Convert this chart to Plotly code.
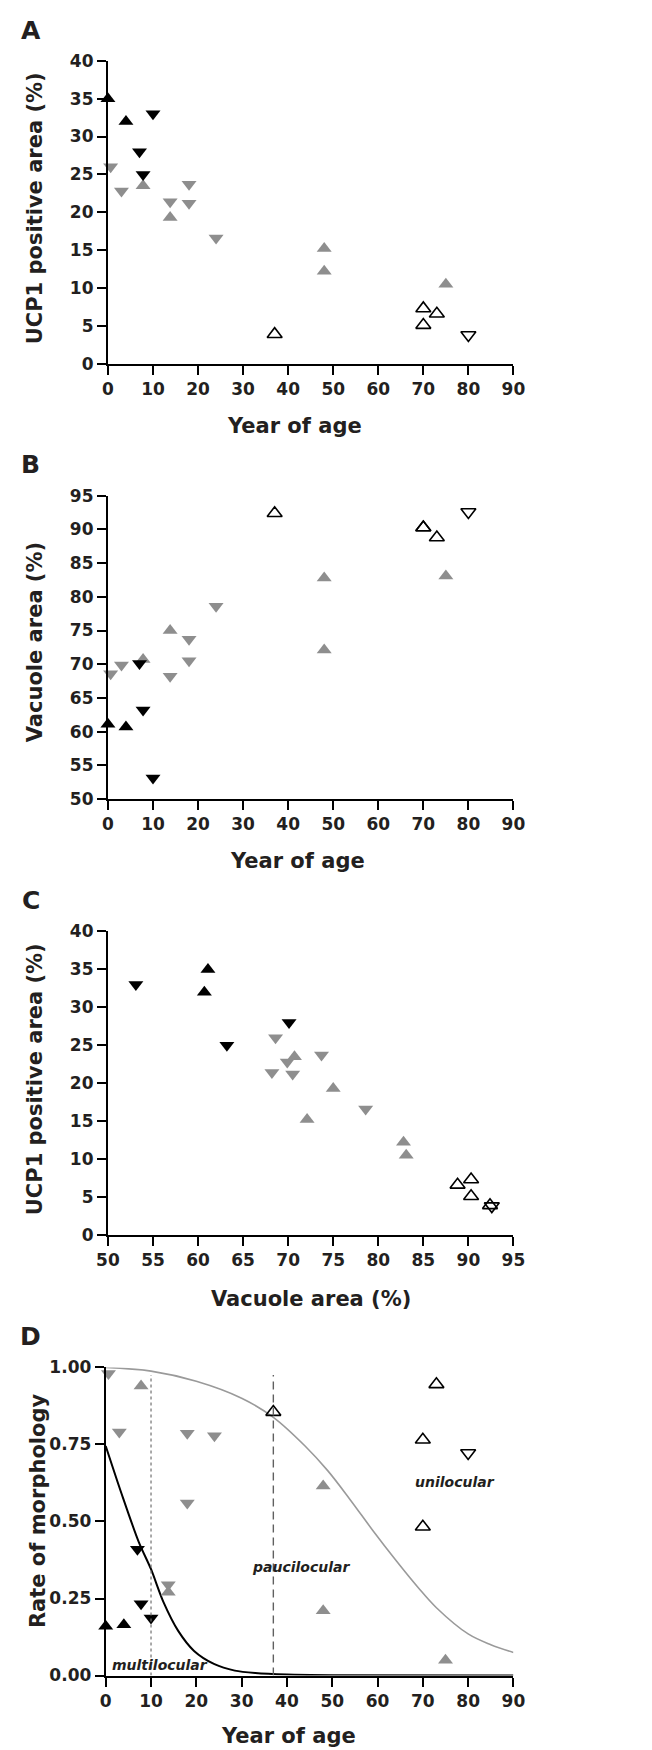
import plotly.graph_objects as go

# ---------------- data ----------------
# groups of subjects, by marker style
black_up_age = [0, 4]
black_up_ucp1 = [35.0, 32.0]
black_up_vac = [61.1, 60.7]
black_up_rate = [0.16, 0.165]

black_down_age = [7, 7.8, 10]
black_down_ucp1 = [28.0, 25.0, 33.0]
black_down_vac = [70.1, 63.2, 53.1]
black_down_rate = [0.41, 0.233, 0.187]

grey_up_age = [7.8, 13.8, 48, 48, 75]
grey_up_ucp1 = [23.5, 19.3, 15.2, 12.2, 10.5]
grey_up_vac = [70.7, 75.0, 72.1, 82.8, 83.1]
grey_up_rate = [0.94, 0.27, 0.615, 0.21, 0.05]

grey_down_age = [0.6, 3, 13.8, 18, 18, 24]
grey_down_ucp1 = [26.0, 22.8, 21.4, 23.7, 21.2, 16.6]
grey_down_vac = [68.6, 69.9, 68.2, 73.7, 70.5, 78.6]
grey_down_rate = [0.98, 0.79, 0.295, 0.786, 0.56, 0.778]

open_up_age = [37, 70, 70, 73]
open_up_ucp1 = [3.9, 7.3, 5.1, 6.6]
open_up_vac = [92.4, 90.3, 90.3, 88.8]
open_up_rate = [0.855, 0.765, 0.483, 0.945]

open_down_age = [80]
open_down_ucp1 = [3.8]
open_down_vac = [92.6]
open_down_rate = [0.722]

# fitted curves in panel D
grey_fit_age = [0, 10, 20, 30, 37, 44, 49, 54, 59, 64, 69, 73, 80, 85, 90]
grey_fit_rate = [1.0, 0.988, 0.955, 0.9, 0.838, 0.745, 0.665, 0.57, 0.47, 0.375, 0.285, 0.22, 0.135, 0.1, 0.075]
black_fit_age = [0, 3.5, 7.3, 10, 12.7, 16, 19.5, 24, 28.5, 33, 40, 50, 90]
black_fit_rate = [0.745, 0.59, 0.433, 0.345, 0.24, 0.145, 0.08, 0.037, 0.016, 0.008, 0.003, 0.001, 0.0]

# threshold ages (vertical lines in D)
threshold_ages = [10, 37]

# ---------------- styling ----------------
W, H = 652, 1750
GREY = "#8e8e8e"
TXT = "#231f20"
FONT = "DejaVu Sans"


def px_x(p):
    return p / W


def px_y(p):
    return 1 - p / H


groups = [
    dict(age=grey_up_age, ucp1=grey_up_ucp1, vac=grey_up_vac, rate=grey_up_rate,
         marker=dict(symbol="triangle-up", size=13, color=GREY, line=dict(width=0))),
    dict(age=grey_down_age, ucp1=grey_down_ucp1, vac=grey_down_vac, rate=grey_down_rate,
         marker=dict(symbol="triangle-down", size=13, color=GREY, line=dict(width=0))),
    dict(age=black_up_age, ucp1=black_up_ucp1, vac=black_up_vac, rate=black_up_rate,
         marker=dict(symbol="triangle-up", size=13, color="black", line=dict(width=0))),
    dict(age=black_down_age, ucp1=black_down_ucp1, vac=black_down_vac, rate=black_down_rate,
         marker=dict(symbol="triangle-down", size=13, color="black", line=dict(width=0))),
    dict(age=open_up_age, ucp1=open_up_ucp1, vac=open_up_vac, rate=open_up_rate,
         marker=dict(symbol="triangle-up-open", size=13, color="black", line=dict(width=1.6, color="black"))),
    dict(age=open_down_age, ucp1=open_down_ucp1, vac=open_down_vac, rate=open_down_rate,
         marker=dict(symbol="triangle-down-open", size=13, color="black", line=dict(width=1.6, color="black"))),
]

fig = go.Figure()

# panel D curves first (behind markers)
fig.add_trace(go.Scatter(x=grey_fit_age, y=grey_fit_rate, mode="lines", xaxis="x4", yaxis="y4",
                         line=dict(color="#9a9a9a", width=1.6, shape="spline", smoothing=1.0),
                         hoverinfo="skip", cliponaxis=False))
fig.add_trace(go.Scatter(x=black_fit_age, y=black_fit_rate, mode="lines", xaxis="x4", yaxis="y4",
                         line=dict(color="black", width=2, shape="spline", smoothing=0.8),
                         hoverinfo="skip", cliponaxis=False))

for g in groups:
    fig.add_trace(go.Scatter(x=g["age"], y=g["ucp1"], mode="markers", marker=g["marker"],
                             xaxis="x", yaxis="y", cliponaxis=False))
    fig.add_trace(go.Scatter(x=g["age"], y=g["vac"], mode="markers", marker=g["marker"],
                             xaxis="x2", yaxis="y2", cliponaxis=False))
    fig.add_trace(go.Scatter(x=g["vac"], y=g["ucp1"], mode="markers", marker=g["marker"],
                             xaxis="x3", yaxis="y3", cliponaxis=False))
    fig.add_trace(go.Scatter(x=g["age"], y=g["rate"], mode="markers", marker=g["marker"],
                             xaxis="x4", yaxis="y4", cliponaxis=False))

tickfont = dict(family=FONT, size=17, color=TXT, weight="bold")


def axis(domain, rng, dtick, anchor, fmt=None):
    d = dict(domain=domain, range=rng, dtick=dtick, tick0=rng[0], anchor=anchor,
             showline=True, linecolor="black", linewidth=2, ticks="outside",
             ticklen=9, tickwidth=2, tickcolor="black", showgrid=False, zeroline=False,
             tickfont=tickfont, fixedrange=True)
    if fmt:
        d["tickformat"] = fmt
    return d


XD = [px_x(91.3), px_x(512.3)]
XD_D = [px_x(89), px_x(512.3)]
YA = [px_y(349.7), px_y(43.3)]
YB = [px_y(790), px_y(483.3)]
YC = [px_y(1231), px_y(924)]
YD = [px_y(1676.7), px_y(1365)]

shapes = []
dash_styles = [dict(color="#707070", width=1.2, dash="3px,3px"),
               dict(color="#606060", width=1.4, dash="8px,5px")]
for t, st in zip(threshold_ages, dash_styles):
    shapes.append(dict(type="line", xref="x4", yref="y4", x0=t, x1=t, y0=0, y1=0.975,
                       line=st, layer="above"))

ann = []


def txt(text, x, y, size, angle=0, italic=False, xref="paper", yref="paper"):
    ann.append(dict(text=("<i>%s</i>" % text) if italic else text, x=x, y=y, xref=xref, yref=yref,
                    showarrow=False, textangle=angle, xanchor="center", yanchor="middle",
                    font=dict(family=FONT, size=size, color=TXT, weight="bold")))


# panel letters
txt("A", px_x(11), px_y(13), 25)
txt("B", px_x(11), px_y(452), 25)
txt("C", px_x(11), px_y(893), 25)
txt("D", px_x(11), px_y(1334), 25)
# x titles
txt("Year of age", px_x(285), px_y(413), 21)
txt("Year of age", px_x(288), px_y(853), 21)
txt("Vacuole area (%)", px_x(302), px_y(1296), 21)
txt("Year of age", px_x(279), px_y(1738), 21)
# y titles
txt("UCP1 positive area (%)", px_x(15), px_y(192), 21, angle=-90)
txt("Vacuole area (%)", px_x(15), px_y(631), 21, angle=-90)
txt("UCP1 positive area (%)", px_x(15), px_y(1073), 21, angle=-90)
txt("Rate of morphology", px_x(18), px_y(1510), 21, angle=-90)
# region labels in D
txt("multilocular", 11.9, 0.034, 14, italic=True, xref="x4", yref="y4")
txt("paucilocular", 43.2, 0.352, 14, italic=True, xref="x4", yref="y4")
txt("unilocular", 77.1, 0.627, 14, italic=True, xref="x4", yref="y4")

fig.update_layout(
    width=W, height=H, autosize=False, showlegend=False,
    margin=dict(l=0, r=0, t=0, b=0),
    paper_bgcolor="white", plot_bgcolor="white",
    xaxis=axis(XD, [0, 90], 10, "y"),
    yaxis=axis(YA, [0, 40], 5, "x"),
    xaxis2=axis(XD, [0, 90], 10, "y2"),
    yaxis2=axis(YB, [50, 95], 5, "x2"),
    xaxis3=axis(XD, [50, 95], 5, "y3"),
    yaxis3=axis(YC, [0, 40], 5, "x3"),
    xaxis4=axis(XD_D, [0, 90], 10, "y4"),
    yaxis4=axis(YD, [0, 1], 0.25, "x4", fmt=".2f"),
    shapes=shapes, annotations=ann,
)

fig.write_html("out.html")
